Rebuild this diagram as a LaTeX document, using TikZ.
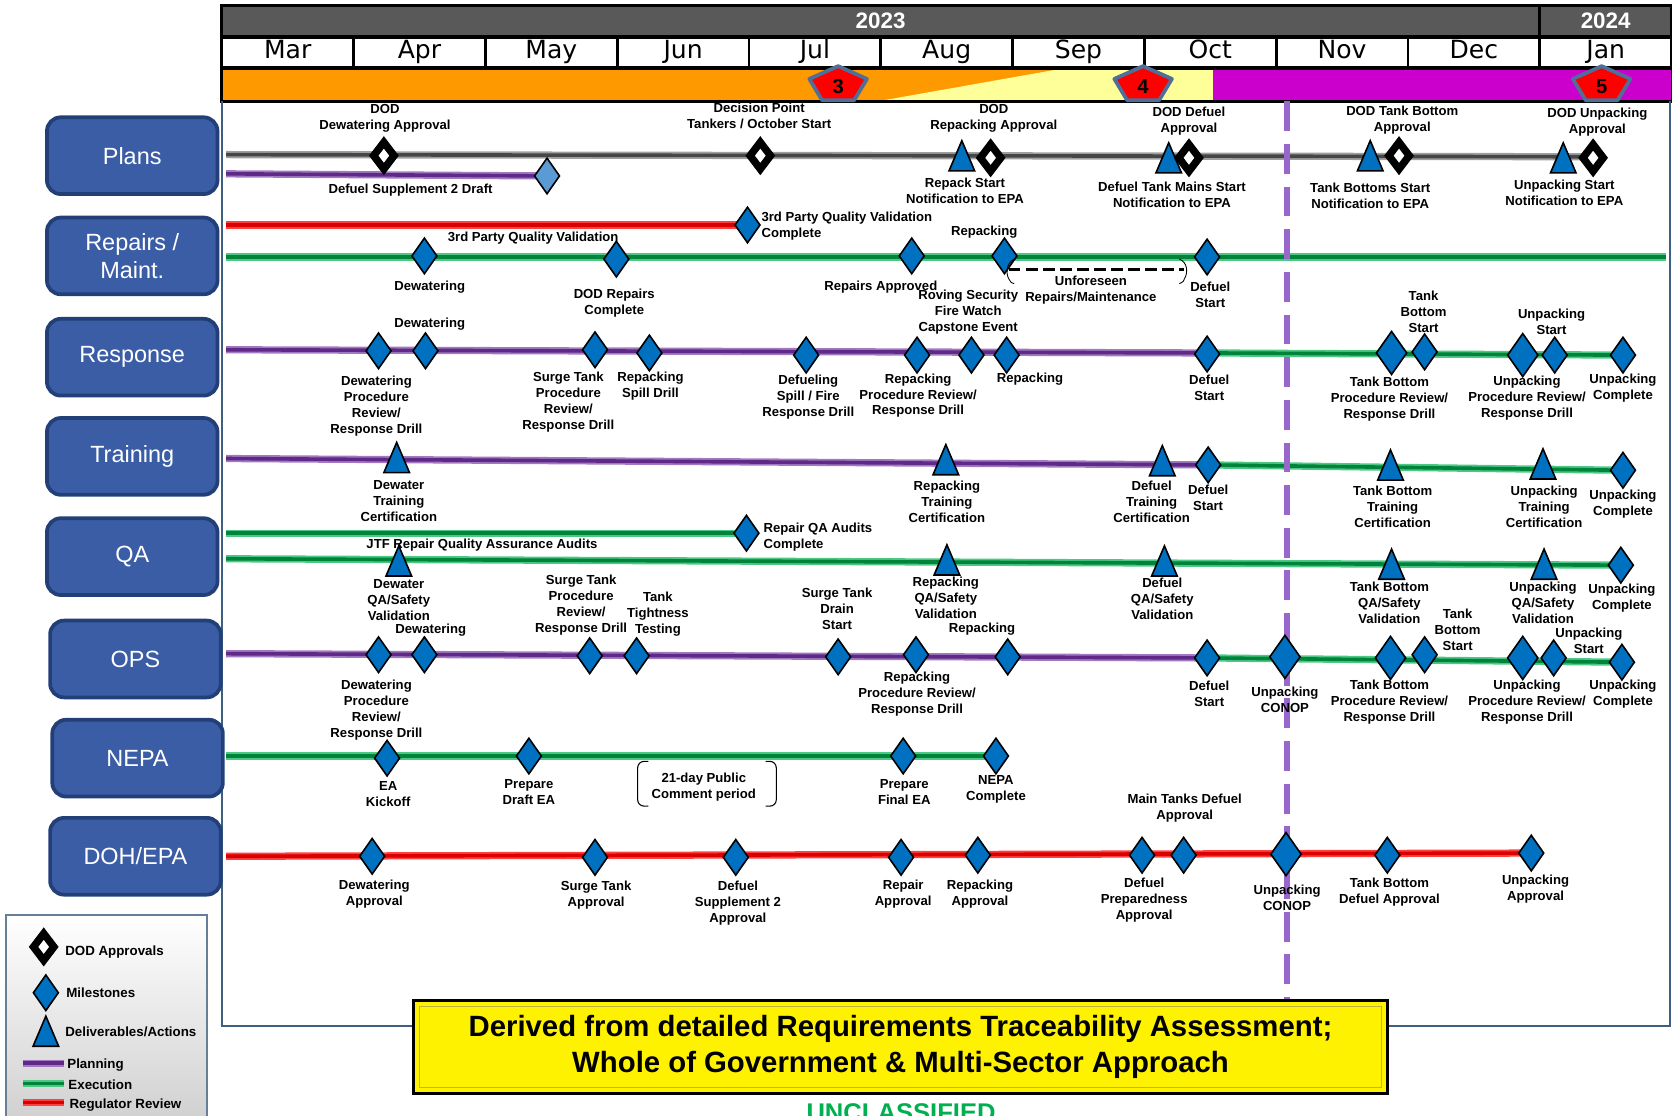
\documentclass[tikz,border=0pt]{standalone}
\usepackage{fontspec}
\setmainfont{Liberation Sans}
\newfontfamily\monthfont{DejaVu Sans}
\usetikzlibrary{shapes.geometric}

\definecolor{hdrgrey}{HTML}{595959}
\definecolor{gateorange}{HTML}{FF9900}
\definecolor{gateyellow}{HTML}{FFFF99}
\definecolor{gatemagenta}{HTML}{CC00CC}
\definecolor{gateedge}{HTML}{4F6F99}
\definecolor{boxblue}{HTML}{3A5DA5}
\definecolor{boxedge}{HTML}{223F78}
\definecolor{msblue}{HTML}{0070C0}
\definecolor{mslight}{HTML}{5B9BD5}
\definecolor{planpurple}{HTML}{7030A0}
\definecolor{execgreen}{HTML}{00B050}
\definecolor{regred}{HTML}{FF0000}
\definecolor{framec}{HTML}{3F5F80}
\definecolor{cutline}{HTML}{9966CC}
\definecolor{legendgrey}{HTML}{D0D0D0}

\begin{document}
\begin{tikzpicture}[x=1pt,y=-1pt,
	lbl/.style={align=center,inner sep=0pt,font=\fontsize{12.3}{15}\selectfont\bfseries},
	rowbox/.style={draw=boxedge,line width=3.5pt,fill=boxblue,rounded corners=13pt,minimum width=160pt,minimum height=72pt,text=white,align=center,font=\fontsize{22}{26}\selectfont},
	monthcell/.style={draw=black,line width=2.5pt,fill=white,minimum width=123.6pt,minimum height=28pt,inner sep=0pt,text height=16pt,text depth=4pt,font=\monthfont\fontsize{23.5}{24}\selectfont},
	yearcell/.style={draw=black,line width=2.5pt,fill=hdrgrey,minimum height=29pt,inner sep=0pt,text=white,font=\fontsize{21}{24}\selectfont\bfseries},
	gatestyle/.style={fill=regred,draw=gateedge,line width=3.5pt,line join=round},
	gatenum/.style={inner sep=0pt,font=\fontsize{19}{20}\selectfont\bfseries},
	mstone/.style={diamond,draw=black,line width=1.5pt,fill=msblue,minimum width=24pt,minimum height=34pt,inner sep=0pt},
	bigstone/.style={mstone,minimum width=29pt,minimum height=41pt},
	dodapp/.style={diamond,draw=black,line width=7pt,fill=white,minimum width=22pt,minimum height=28pt,inner sep=0pt},
	deliv/.style={isosceles triangle,isosceles triangle apex angle=46,shape border rotate=90,draw=black,line width=1.5pt,fill=msblue,minimum width=24pt,minimum height=24pt,inner sep=0pt,anchor=apex},
	greybar/.style={draw=gray!75,double=gray!55!black,line width=1.7pt,double distance=3.4pt},
	planbar/.style={draw=planpurple!65!white,double=planpurple!85!black,line width=1.7pt,double distance=3.4pt},
	execbar/.style={draw=execgreen!70!white,double=execgreen!75!black,line width=1.7pt,double distance=3.4pt},
	regbar/.style={draw=regred!75!white,double=regred!85!black,line width=1.7pt,double distance=3.4pt},
	legtext/.style={anchor=west,inner sep=0pt,font=\fontsize{12.5}{14}\selectfont\bfseries}]
	\useasboundingbox (0,0) rectangle (1568,1046);

	% header
	\fill[gateorange] (208,64) rectangle (1568,95);
	\fill[gateyellow] (823,95) -- (998,64) -- (1138,64) -- (1138,95) -- cycle;
	\fill[gatemagenta] (1138,64) rectangle (1568,95);
	\draw[line width=2.5pt] (208,64) rectangle (1568,95);
	\node[yearcell,minimum width=1236pt] (y2023) at (825.8,19.5) {2023};
	\node[yearcell,minimum width=123.6pt] (y2024) at (1505.8,19.5) {2024};
	\foreach \m [count=\i] in {Mar,Apr,May,Jun,Jul,Aug,Sep,Oct,Nov,Dec,Jan}
		\node[monthcell] (m\i) at ({208+123.6*(\i-0.5)},49) {\m};
	\foreach \x/\n in {786/3,1072/4,1502/5} {
		\draw[gatestyle] (\x,62) -- (\x+27,74) -- (\x+15,94) -- (\x-15,94) -- (\x-27,74) -- cycle;
		\node[gatenum] (gate\n) at (\x,81) {\n};
	}

	% frame and row labels
	\draw[framec,line width=1.5pt] (208,95) -- (208,962) -- (1566,962) -- (1566,95);
	\foreach \t/\x/\y [count=\i] in {Plans/124/146,{Repairs /\\Maint.}/124/240,Response/124/335,Training/124/428,QA/124/522,OPS/127/618,NEPA/129/711,{DOH/EPA}/127/803}
		\node[rowbox] (row\i) at (\x,\y) {\t};

	% bars
	\draw[greybar] (212,145) -- (1494,147);
	\draw[planbar] (212,163) -- (513,165);
	\draw[regbar] (212,211) -- (701,211);
	\draw[execbar] (212,241) -- (1562,241);
	\draw[planbar] (212,328) -- (1132,331);
	\draw[execbar] (1132,331) -- (1522,333);
	\draw[planbar] (212,430) -- (1133,436);
	\draw[execbar] (1133,436) -- (1522,441);
	\draw[execbar] (212,500) -- (700,500);
	\draw[execbar] (212,524) -- (1520,530);
	\draw[planbar] (212,613) -- (1132,617);
	\draw[execbar] (1132,617) -- (1521,621);
	\draw[execbar] (212,709) -- (934,709);
	\draw[regbar] (212,803) -- (1436,800);
	\draw[cutline,line width=5pt,dash pattern=on 28pt off 12pt] (1207,95) -- (1207,938);

	% Plans
	\node[dodapp] (pa1) at (360,146) {};
	\node[mstone,fill=mslight] (pm1) at (513,165) {};
	\node[dodapp] (pa2) at (713,146) {};
	\node[deliv] (pd1) at (902,130) {};
	\node[dodapp] (pa3) at (929,148) {};
	\node[deliv] (pd2) at (1096,132) {};
	\node[dodapp] (pa4) at (1115,148) {};
	\node[deliv] (pd3) at (1285,130) {};
	\node[dodapp] (pa5) at (1312,146) {};
	\node[deliv] (pd4) at (1466,132) {};
	\node[dodapp] (pa6) at (1494,148) {};
	\node[lbl] (pl1) at (361,110.5) {DOD\\Dewatering Approval};
	\node[lbl] (pl2) at (385,178) {Defuel Supplement 2 Draft};
	\node[lbl] (pl3) at (712,108.5) {Decision Point\\Tankers / October Start};
	\node[lbl] (pl4) at (932,110.5) {DOD\\Repacking Approval};
	\node[lbl] (pl5) at (905,178.5) {Repack Start\\Notification to EPA};
	\node[lbl] (pl6) at (1115,113.5) {DOD Defuel\\Approval};
	\node[lbl] (pl7) at (1099,182.5) {Defuel Tank Mains Start\\Notification to EPA};
	\node[lbl] (pl8) at (1315,112.5) {DOD Tank Bottom\\Approval};
	\node[lbl] (pl9) at (1285,183.5) {Tank Bottoms Start\\Notification to EPA};
	\node[lbl] (pl10) at (1498,114.5) {DOD Unpacking\\Approval};
	\node[lbl] (pl11) at (1467,180.5) {Unpacking Start\\Notification to EPA};

	% Repairs / Maint.
	\foreach \x/\y [count=\i] in {701/211,398/240,578/243,855/240,942/240,1132/241}
		\node[mstone] (rm\i) at (\x,\y) {};
	\draw[line width=2.6pt,dash pattern=on 11pt off 5pt] (946,253) -- (1110,253);
	\draw[line width=0.8pt] (951,243) .. controls (943,247) and (943,258) .. (947,263) .. controls (948,265) .. (951,266);
	\draw[line width=0.8pt] (1106,243) .. controls (1114,246) and (1114,256) .. (1111,261) .. controls (1110,264) .. (1106,266);
	\node[lbl,align=left,anchor=west] (rp1) at (714,212.5) {3rd Party Quality Validation\\Complete};
	\node[lbl] (rp2) at (500,223) {3rd Party Quality Validation};
	\node[lbl] (rp3) at (403,269) {Dewatering};
	\node[lbl] (rp4) at (576,284.5) {DOD Repairs\\Complete};
	\node[lbl] (rp5) at (826,269) {Repairs Approved};
	\node[lbl] (rp6) at (923,218) {Repacking};
	\node[lbl] (rp7) at (1023,272.5) {Unforeseen\\Repairs/Maintenance};
	\node[lbl] (rp8) at (1135,276.5) {Defuel\\Start};
	\node[lbl] (rp9) at (908,293) {Roving Security\\Fire Watch\\Capstone Event};

	% Response
	\foreach \x/\y [count=\i] in {355/329,399/329,558/328,609/331,756/333,860/333,911/333,944/333,1132/332,1336/330,1458/333,1522/333}
		\node[mstone] (sm\i) at (\x,\y) {};
	\node[bigstone] (sb1) at (1305,331) {};
	\node[bigstone] (sb2) at (1428,333) {};
	\node[lbl] (rs1) at (353,380.5) {Dewatering\\Procedure\\Review/\\Response Drill};
	\node[lbl] (rs2) at (403,304) {Dewatering};
	\node[lbl] (rs3) at (533,377.5) {Surge Tank\\Procedure\\Review/\\Response Drill};
	\node[lbl] (rs4) at (610,362.5) {Repacking\\Spill Drill};
	\node[lbl] (rs5) at (758,372) {Defueling\\Spill / Fire\\Response Drill};
	\node[lbl] (rs6) at (861,371) {Repacking\\Procedure Review/\\Response Drill};
	\node[lbl] (rs7) at (966,356) {Repacking};
	\node[lbl] (rs8) at (1134,363.5) {Defuel\\Start};
	\node[lbl] (rs9) at (1335,292) {Tank\\Bottom\\Start};
	\node[lbl] (rs10) at (1303,374) {Tank Bottom\\Procedure Review/\\Response Drill};
	\node[lbl] (rs11) at (1455,301.5) {Unpacking\\Start};
	\node[lbl] (rs12) at (1432,373) {Unpacking\\Procedure Review/\\Response Drill};
	\node[lbl] (rs13) at (1522,363.5) {Unpacking\\Complete};

	% Training
	\foreach \x/\y [count=\i] in {372/413,887/415,1090/416,1304/420,1447/419}
		\node[deliv] (td\i) at (\x,\y) {};
	\node[mstone] (tm1) at (1133,436) {};
	\node[mstone] (tm2) at (1522,441) {};
	\node[lbl] (tr1) at (374,470) {Dewater\\Training\\Certification};
	\node[lbl] (tr2) at (888,471) {Repacking\\Training\\Certification};
	\node[lbl] (tr3) at (1080,471) {Defuel\\Training\\Certification};
	\node[lbl] (tr4) at (1133,466.5) {Defuel\\Start};
	\node[lbl] (tr5) at (1306,475) {Tank Bottom\\Training\\Certification};
	\node[lbl] (tr6) at (1448,475) {Unpacking\\Training\\Certification};
	\node[lbl] (tr7) at (1522,472.5) {Unpacking\\Complete};

	% QA
	\foreach \x/\y [count=\i] in {374/510,888/509,1092/510,1305/513,1448/513}
		\node[deliv] (qd\i) at (\x,\y) {};
	\node[mstone] (qm1) at (700,500) {};
	\node[mstone] (qm2) at (1520,530) {};
	\node[lbl,align=left,anchor=west] (qa1) at (716,503.5) {Repair QA Audits\\Complete};
	\node[lbl] (qa2) at (452,511) {JTF Repair Quality Assurance Audits};
	\node[lbl] (qa3) at (374,563) {Dewater\\QA/Safety\\Validation};
	\node[lbl] (qa4) at (887,561) {Repacking\\QA/Safety\\Validation};
	\node[lbl] (qa5) at (1090,562) {Defuel\\QA/Safety\\Validation};
	\node[lbl] (qa6) at (1303,565) {Tank Bottom\\QA/Safety\\Validation};
	\node[lbl] (qa7) at (1447,565) {Unpacking\\QA/Safety\\Validation};
	\node[lbl] (qa8) at (1521,560.5) {Unpacking\\Complete};

	% OPS
	\foreach \x/\y [count=\i] in {355/614,398/614,553/615,597/615,786/616,859/614,945/616,1132/617,1336/614,1457/617,1521/621}
		\node[mstone] (om\i) at (\x,\y) {};
	\foreach \x/\y [count=\i] in {1205/616,1304/617,1428/617}
		\node[bigstone] (ob\i) at (\x,\y) {};
	\node[lbl] (op1) at (353,665.5) {Dewatering\\Procedure\\Review/\\Response Drill};
	\node[lbl] (op2) at (404,591) {Dewatering};
	\node[lbl] (op3) at (545,567.5) {Surge Tank\\Procedure\\Review/\\Response Drill};
	\node[lbl] (op4) at (617,576) {Tank\\Tightness\\Testing};
	\node[lbl] (op5) at (785,571) {Surge Tank\\Drain\\Start};
	\node[lbl] (op6) at (860,651) {Repacking\\Procedure Review/\\Response Drill};
	\node[lbl] (op7) at (921,590) {Repacking};
	\node[lbl] (op8) at (1134,650.5) {Defuel\\Start};
	\node[lbl] (op9) at (1205,656.5) {Unpacking\\CONOP};
	\node[lbl] (op10) at (1367,591) {Tank\\Bottom\\Start};
	\node[lbl] (op11) at (1303,658) {Tank Bottom\\Procedure Review/\\Response Drill};
	\node[lbl] (op12) at (1490,600.5) {Unpacking\\Start};
	\node[lbl] (op13) at (1432,658) {Unpacking\\Procedure Review/\\Response Drill};
	\node[lbl] (op14) at (1522,650.5) {Unpacking\\Complete};

	% NEPA
	\foreach \x/\y [count=\i] in {363/711,496/709,847/709,934/709}
		\node[mstone] (nm\i) at (\x,\y) {};
	\draw[line width=1pt,rounded corners=6pt] (608,714) -- (598,714) -- (598,756) -- (608,756);
	\draw[line width=1pt,rounded corners=6pt] (718,714) -- (728,714) -- (728,756) -- (718,756);
	\node[lbl] (ne1) at (364,744.5) {EA\\Kickoff};
	\node[lbl] (ne2) at (496,742.5) {Prepare\\Draft EA};
	\node[lbl] (ne3) at (660,738.5) {21-day Public\\Comment period};
	\node[lbl] (ne4) at (848,742.5) {Prepare\\Final EA};
	\node[lbl] (ne5) at (934,740.5) {NEPA\\Complete};

	% DOH/EPA
	\foreach \x/\y [count=\i] in {349/803,558/804,690/804,845/804,917/802,1071/802,1110/802,1301/802,1436/800}
		\node[mstone] (dm\i) at (\x,\y) {};
	\node[bigstone] (db1) at (1206,801) {};
	\node[lbl] (de1) at (351,838.5) {Dewatering\\Approval};
	\node[lbl] (de2) at (559,839.5) {Surge Tank\\Approval};
	\node[lbl] (de3) at (692,847) {Defuel\\Supplement 2\\Approval};
	\node[lbl] (de4) at (847,838.5) {Repair\\Approval};
	\node[lbl] (de5) at (919,838.5) {Repacking\\Approval};
	\node[lbl] (de6) at (1073,844) {Defuel\\Preparedness\\Approval};
	\node[lbl] (de7) at (1111,757.5) {Main Tanks Defuel\\Approval};
	\node[lbl] (de8) at (1207,841.5) {Unpacking\\CONOP};
	\node[lbl] (de9) at (1303,836.5) {Tank Bottom\\Defuel Approval};
	\node[lbl] (de10) at (1440,833.5) {Unpacking\\Approval};

	% legend
	\draw[draw=framec!80!white,line width=2pt,top color=white,bottom color=legendgrey] (6,858) rectangle (194,1052);
	\node[dodapp] (ka) at (41,888) {};
	\node[mstone] (km) at (43,931) {};
	\node[deliv] (kd) at (43,951) {};
	\node[legtext] (kta) at (61,893) {DOD Approvals};
	\node[legtext] (ktm) at (62,931) {Milestones};
	\node[legtext] (ktd) at (61,968) {Deliverables/Actions};
	\draw[planbar] (22,997) -- (60,997);
	\draw[execbar] (22,1016) -- (60,1016);
	\draw[regbar] (22,1034) -- (60,1034);
	\node[legtext] (ktp) at (63,999) {Planning};
	\node[legtext] (kte) at (64,1017) {Execution};
	\node[legtext] (ktr) at (65,1036) {Regulator Review};

	% note
	\node[draw=black,line width=3pt,fill=yellow,minimum width=913pt,minimum height=87pt,align=center,inner sep=0pt,font=\fontsize{27.5}{34}\selectfont\bfseries] (note) at (844.5,982) {Derived from detailed Requirements Traceability Assessment;\\Whole of Government \& Multi-Sector Approach};
	\draw[yellow!70!black,line width=1.5pt] ([shift={(7,7)}]note.north west) rectangle ([shift={(-7,-7)}]note.south east);
	\node[anchor=north,inner sep=0pt,text=execgreen,font=\fontsize{24}{26}\selectfont\bfseries] (uncl) at (845,1035) {UNCLASSIFIED};
\end{tikzpicture}
\end{document}
